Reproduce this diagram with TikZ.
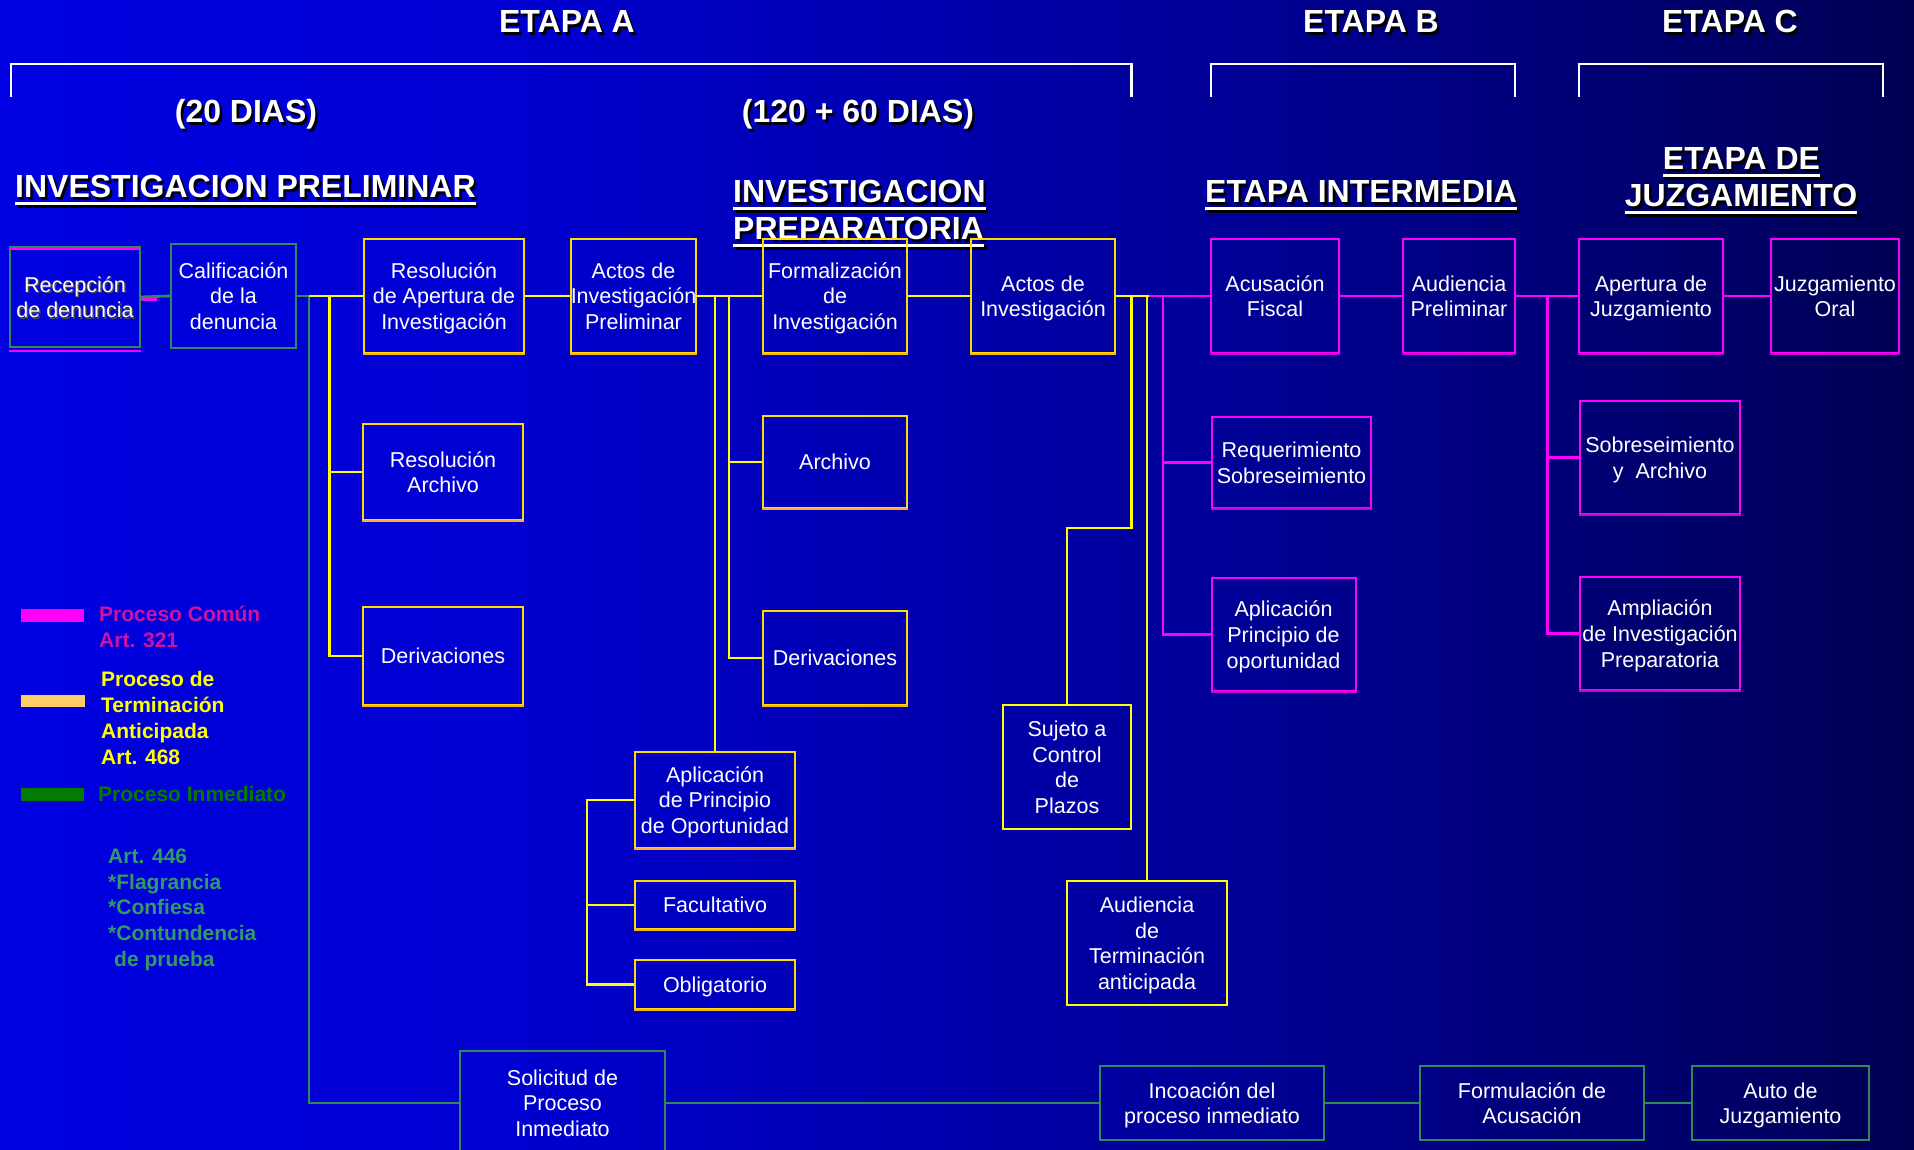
\documentclass[tikz,border=0pt]{standalone}
\usepackage{fontspec}
\setmainfont{Liberation Sans}
\usetikzlibrary{calc}
\definecolor{cmag}{RGB}{255,0,255}
\definecolor{cmagb}{RGB}{210,0,210}
\definecolor{cyel}{RGB}{255,255,0}
\definecolor{cbox}{RGB}{255,220,0}
\definecolor{cboxb}{RGB}{255,175,40}
\definecolor{cgrn}{RGB}{46,139,87}
\definecolor{legmag}{RGB}{205,20,160}
\definecolor{legora}{RGB}{255,204,102}
\definecolor{legdg}{RGB}{0,125,0}
\definecolor{leggrn}{RGB}{51,153,102}
\pgfdeclarehorizontalshading{bgshade}{100bp}{rgb(0bp)=(0,0,0.95); rgb(16bp)=(0,0,0.93); rgb(38bp)=(0,0,0.82); rgb(57bp)=(0,0,0.59); rgb(70.5bp)=(0,0,0.40); rgb(83.6bp)=(0,0,0.18); rgb(93bp)=(0,0,0.04); rgb(98bp)=(0,0,0); rgb(100bp)=(0,0,0)}
\newcommand\shtitle[4]{%
  \node[ttl, text=black, anchor=#1] (#2s) at ($(#3)+(2.5,2.5)$) {#4};
  \node[ttl, anchor=#1] (#2) at (#3) {#4};}
\newcommand\tul[1]{%
  \draw[line width=3.5pt, black] ($(#1.base west)+(2.5,8)$) -- ($(#1.base east)+(2.5,8)$);
  \draw[line width=3.5pt, white] ($(#1.base west)+(0,5.5)$) -- ($(#1.base east)+(0,5.5)$);}
\newcommand\bt[1]{\raisebox{-2.8pt}[\height][\depth]{\begin{tabular}{@{}c@{}}#1\end{tabular}}}
\begin{document}
\begin{tikzpicture}[x=1pt,y=-1pt,
  bx/.style={draw, line width=2pt, inner sep=0pt, text=white, font=\fontsize{21.5}{25.8}\selectfont},
  ybox/.style={bx, draw=cbox},
  mbox/.style={bx, draw=cmag},
  gbox/.style={bx, draw=cgrn},
  yline/.style={draw=cyel, line width=2.8pt},
  mline/.style={draw=cmag, line width=2.8pt},
  gline/.style={draw=cgrn, line width=2.8pt},
  ttl/.style={inner sep=0pt, text=white, font=\fontsize{32}{38}\selectfont\bfseries},
  leg/.style={inner sep=0pt, anchor=base west, font=\fontsize{21}{25.7}\selectfont\bfseries},
  brk/.style={draw=white, line width=2.5pt},
]
\useasboundingbox (0,0) rectangle (1914,1150);
\clip (0,0) rectangle (1914,1150);
\shade[shading=bgshade] (0,0) rectangle (1914,1150);

% brackets
\draw[brk] (11,97) -- (11,64) -- (1131.5,64) -- (1131.5,97);
\draw[brk] (1211,97) -- (1211,64) -- (1515,64) -- (1515,97);
\draw[brk] (1579,97) -- (1579,64) -- (1883,64) -- (1883,97);

% titles
\shtitle{base}{ta}{567,33}{ETAPA A}
\shtitle{base}{tb}{1371,33}{ETAPA B}
\shtitle{base}{tc}{1730,33}{ETAPA C}
\shtitle{base}{d20}{246,123}{(20 DIAS)}
\shtitle{base}{d120}{858,123}{(120 + 60 DIAS)}
\shtitle{base west}{tip}{15,198}{INVESTIGACION PRELIMINAR}\tul{tip}
\shtitle{base west}{tipa}{733,203}{INVESTIGACION}\tul{tipa}
\shtitle{base west}{tipb}{733,240}{PREPARATORIA}\tul{tipb}
\shtitle{base west}{tei}{1205,203}{ETAPA INTERMEDIA}\tul{tei}
\shtitle{base}{tja}{1741.5,170}{ETAPA DE}\tul{tja}
\shtitle{base}{tjb}{1741,207}{JUZGAMIENTO}\tul{tjb}

% legend
\fill[cmag] (21,609) rectangle (84,622);
\fill[legora] (21,695) rectangle (85,707);
\fill[legdg] (21,788) rectangle (84,801);
\node[leg, text=legmag] (l1) at (99,621) {Proceso Común};
\node[leg, text=legmag] (l2) at (99,647) {Art. 321};
\node[leg, text=cyel] (l3) at (101,686) {Proceso de};
\node[leg, text=cyel] (l4) at (101,712) {Terminación};
\node[leg, text=cyel] (l5) at (101,738) {Anticipada};
\node[leg, text=cyel] (l6) at (101,764) {Art. 468};
\node[leg, text=legdg] (l7) at (98,801) {Proceso Inmediato};
\node[leg, text=leggrn] (l8) at (108,863) {Art. 446};
\node[leg, text=leggrn] (l9) at (108,889) {*Flagrancia};
\node[leg, text=leggrn] (l10) at (108,914) {*Confiesa};
\node[leg, text=leggrn] (l11) at (108,940) {*Contundencia};
\node[leg, text=leggrn] (l12) at (114,966) {de prueba};

% boxes - main row
\node[bx, draw=none, text=black!70] (recsh) at (76.5,298.5) {\bt{Recepción\\de denuncia}};
\node[gbox, minimum width=130, minimum height=100] (recep) at (75,297) {\bt{Recepción\\de denuncia}};
\node[gbox, minimum width=125, minimum height=104] (calif) at (233.5,296) {\bt{Calificación\\de la\\denuncia}};
\node[ybox, minimum width=160, minimum height=114] (resap) at (444,296) {\bt{Resolución\\de Apertura de\\Investigación}};
\node[ybox, minimum width=125, minimum height=114] (actpre) at (633.5,296) {\bt{Actos de\\Investigación\\Preliminar}};
\node[ybox, minimum width=144, minimum height=114] (formal) at (835,296) {\bt{Formalización\\de\\Investigación}};
\node[ybox, minimum width=144, minimum height=114] (actos2) at (1043,296) {\bt{Actos de\\Investigación}};
\node[mbox, minimum width=128, minimum height=114] (acus) at (1275,296) {\bt{Acusación\\Fiscal}};
\node[mbox, minimum width=112, minimum height=114] (audpre) at (1459,296) {\bt{Audiencia\\Preliminar}};
\node[mbox, minimum width=144, minimum height=114] (apert) at (1651,296) {\bt{Apertura de\\Juzgamiento}};
\node[mbox, minimum width=128, minimum height=114] (juzor) at (1835,296) {\bt{Juzgamiento\\Oral}};

% yellow branches
\node[ybox, minimum width=160, minimum height=96] (resarch) at (443,472) {\bt{Resolución\\Archivo}};
\node[ybox, minimum width=160, minimum height=98] (deriv1) at (443,656) {\bt{Derivaciones}};
\node[ybox, minimum width=144, minimum height=92] (archivo) at (835,462) {\bt{Archivo}};
\node[ybox, minimum width=144, minimum height=94] (deriv2) at (835,658) {\bt{Derivaciones}};
\node[ybox, minimum width=160, minimum height=96] (aplic1) at (715,800) {\bt{Aplicación\\de Principio\\de Oportunidad}};
\node[ybox, minimum width=160, minimum height=48] (facult) at (715,905) {\bt{Facultativo}};
\node[ybox, minimum width=160, minimum height=49] (oblig) at (715,984.5) {\bt{Obligatorio}};
\node[ybox, line width=2.6pt, draw=cyel, minimum width=128, minimum height=124] (sujeto) at (1067,767) {\bt{Sujeto a\\Control\\de\\Plazos}};
\node[ybox, line width=2.6pt, draw=cyel, minimum width=160, minimum height=124] (audterm) at (1147,943) {\bt{Audiencia\\de\\Terminación\\anticipada}};

% magenta branches
\node[mbox, minimum width=159, minimum height=91] (reqsob) at (1291.5,462.5) {\bt{Requerimiento\\Sobreseimiento}};
\node[mbox, minimum width=144, minimum height=113] (aplic2) at (1283.5,634.5) {\bt{Aplicación\\Principio de\\oportunidad}};
\node[mbox, minimum width=160, minimum height=113] (sobarch) at (1660,457.5) {\bt{Sobreseimiento\\y\ \ Archivo}};
\node[mbox, minimum width=160, minimum height=113] (ampl) at (1660,633.5) {\bt{Ampliación\\de Investigación\\Preparatoria}};

% green bottom row
\node[gbox, minimum width=205, minimum height=104] (solic) at (562.5,1103) {\bt{Solicitud de\\Proceso\\Inmediato}};
\node[gbox, minimum width=224, minimum height=74] (incoac) at (1212,1103) {\bt{Incoación del\\proceso inmediato}};
\node[gbox, minimum width=224, minimum height=74] (formul) at (1532,1103) {\bt{Formulación de\\Acusación}};
\node[gbox, minimum width=177, minimum height=74] (autoj) at (1780.5,1103) {\bt{Auto de\\Juzgamiento}};

% box shading details
\foreach \n in {resap,actpre,formal,actos2,resarch,deriv1,archivo,deriv2,aplic1,facult,oblig}
  \draw[cboxb, line width=2pt] (\n.south west) -- (\n.south east);
\foreach \n in {acus,audpre,apert,juzor,reqsob,aplic2,sobarch,ampl}
  \draw[cmagb, line width=2pt] (\n.south west) -- (\n.south east);
\draw[cmag, line width=2pt] ($(recep.north west)+(1,3)$) -- ($(recep.north east)+(-1,3)$);
\draw[cmag, line width=2pt] ($(recep.south west)+(0,2.5)$) -- ($(recep.south east)+(0,2.5)$);

% connectors
\coordinate (g1) at (309,296);
\coordinate (y1) at (329.5,296);
\coordinate (y2) at (729,296);
\coordinate (y3) at (587,800);
\coordinate (y4) at (1148.5,296);
\coordinate (y5) at (1131.5,528);
\coordinate (m1) at (1163,296);
\coordinate (m2) at (1547.5,296);
\coordinate (rm) at ($(recep.east)+(16,2.5)$);

\draw[cmag, line width=2.5pt] ($(recep.east)+(0,2.5)$) -- (rm);
\draw[gline] (recep.east) -- (calif.west);
\draw[gline] (calif.east) -- (g1) |- (solic.west);
\draw[gline] (solic.east) -- (incoac.west);
\draw[gline] (incoac.east) -- (formul.west);
\draw[gline] (formul.east) -- (autoj.west);

\draw[yline] (g1) -- (resap.west);
\draw[yline] (y1) |- (resarch.west);
\draw[yline] (y1) |- (deriv1.west);
\draw[yline] (resap.east) -- (actpre.west);
\draw[yline] (actpre.east) -- (formal.west);
\draw[yline] (aplic1.north |- actpre.east) -- (aplic1.north);
\draw[yline] (y2) |- (archivo.west);
\draw[yline] (y2) |- (deriv2.west);
\draw[yline] (aplic1.west) -- (y3) |- (oblig.west);
\draw[yline] (y3 |- facult.west) -- (facult.west);
\draw[yline] (formal.east) -- (actos2.west);
\draw[yline] (actos2.east) -- (y4);
\draw[yline] (y5 |- actos2.east) -- (y5) -| (sujeto.north);
\draw[yline] (audterm.north |- actos2.east) -- (audterm.north);

\draw[mline] (y4) -- (acus.west);
\draw[mline] (m1) |- (reqsob.west);
\draw[mline] (m1) |- (aplic2.west);
\draw[mline] (acus.east) -- (audpre.west);
\draw[mline] (audpre.east) -- (apert.west);
\draw[mline] (m2) |- (sobarch.west);
\draw[mline] (m2) |- (ampl.west);
\draw[mline] (apert.east) -- (juzor.west);
\end{tikzpicture}
\end{document}
